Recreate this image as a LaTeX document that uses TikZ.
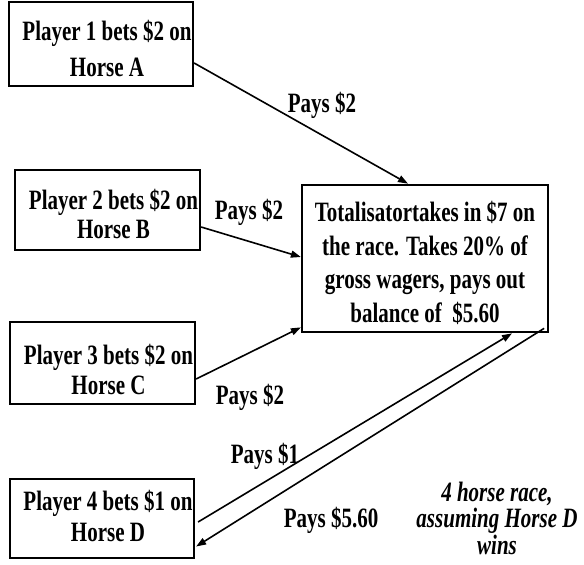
\documentclass[tikz,border=0pt]{standalone}
\usepackage{fontspec}
\setmainfont{Liberation Serif}[FakeStretch=0.75]
\usetikzlibrary{arrows.meta,calc}
\newcommand\hst[1]{\rule{0pt}{#1pt}}
\newcommand\dst[1]{\rule[-#1pt]{0pt}{#1pt}}
\newcommand\sh{\hspace*{12pt}}
\newcommand\fbx[1]{\bfseries\fontsize{28}{#1}\selectfont}
\begin{document}
\begin{tikzpicture}[x=1pt,y=-1pt,
  box/.style={draw, line width=2.2pt, inner sep=0pt, align=center},
  lab/.style={font=\bfseries\fontsize{28}{30}\selectfont, inner sep=0pt, anchor=base},
  arr/.style={line width=1.6pt, -{Triangle[length=10pt,width=7pt]}}]
\useasboundingbox (0,0) rectangle (584,565);

\node[box, minimum width=184pt, minimum height=78pt, font=\fbx{36}] (b1) at (101,44)
  {\hst{38}\sh Player 1 bets \$2 on\\\sh Horse A\dst{10}};
\node[box, minimum width=185pt, minimum height=80pt, font=\fbx{29}] (b2) at (107.5,210)
  {\hst{37}\sh Player 2 bets \$2 on\\\sh Horse B\dst{10}};
\node[box, minimum width=185pt, minimum height=70pt, font=\fbx{30}] (b3) at (102.5,363)
  {\hst{42}\sh Player 3 bets \$2 on\\\sh Horse C\dst{10}};
\node[box, minimum width=184pt, minimum height=79pt, font=\fbx{31.7}] (b4) at (102,518.5)
  {\hst{24.7}\sh Player 4 bets \$1 on\\\sh Horse D\dst{10}};
\node[box, minimum width=246pt, minimum height=147pt, font=\fbx{33.5}] (tot) at (425,258.5)
  {\hst{37}Totalisatortakes in \$7 on\\the race. Takes 20\% of\\gross wagers, pays out\\balance of~ \$5.60\dst{10}};

\node[lab] (p1) at (322,112) {Pays \$2};
\node[lab] (p2) at (249,219) {Pays \$2};
\node[lab] (p3) at (250,404) {Pays \$2};
\node[lab] (p4) at (265,463) {Pays \$1};
\node[lab] (p5) at (331,527) {Pays \$5.60};
\node[inner sep=0pt, anchor=base, align=center, font=\bfseries\itshape\fontsize{28}{26.5}\selectfont] (note) at (497,554)
  {4 horse race,\\assuming Horse D\\wins};

\draw[arr] ([yshift=-19pt]b1.east) -- ([xshift=-17pt]tot.north);
\draw[arr] ([yshift=-17pt]b2.east) -- ([yshift=1.5pt]tot.west);
\draw[arr] ([yshift=-16pt]b3.east) -- ([yshift=6pt]tot.south west);
\draw[arr] ([xshift=3pt,yshift=-3.5pt]b4.east) -- ([xshift=87pt]tot.south);
\draw[arr] ([xshift=-5pt,yshift=5pt]tot.south east) -- ([xshift=1pt,yshift=-28pt]b4.east);
\end{tikzpicture}
\end{document}
